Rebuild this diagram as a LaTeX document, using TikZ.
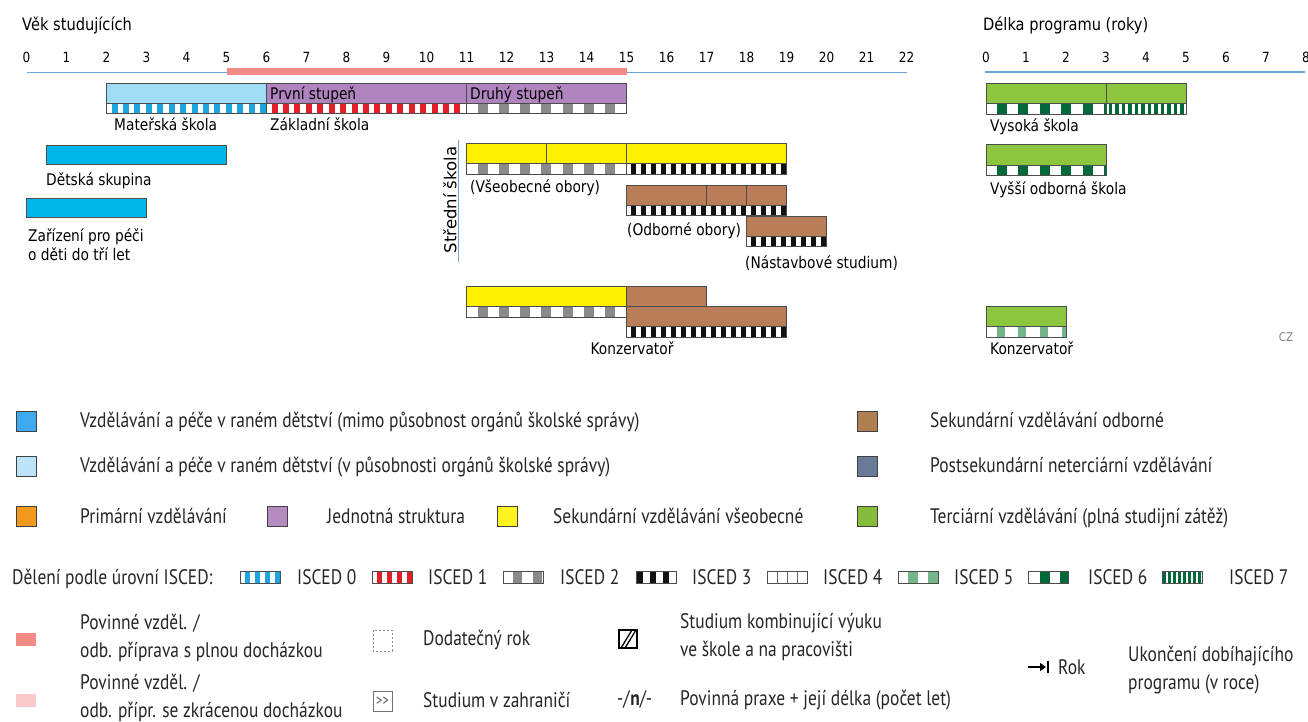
\documentclass[tikz,border=0pt]{standalone}
\usepackage{fontspec}
\newfontfamily\chartfont[FakeStretch=0.86]{DejaVu Sans}
\newfontfamily\chartwide{DejaVu Sans}
\newfontfamily\legfont[FakeStretch=0.83]{PT Sans}
\usetikzlibrary{arrows.meta}
\definecolor{axisblue}{HTML}{6FA3DC}
\definecolor{comppink}{HTML}{F28A85}
\definecolor{lightpink}{HTML}{F9C8CA}
\definecolor{msblue}{HTML}{A0DCF4}
\definecolor{purp}{HTML}{B084BE}
\definecolor{cyanb}{HTML}{00B5EA}
\definecolor{yel}{HTML}{FFF200}
\definecolor{brown}{HTML}{B97E57}
\definecolor{grn}{HTML}{8CC63F}
\definecolor{isA}{HTML}{1BA6E0}
\definecolor{isB}{HTML}{E41E26}
\definecolor{isC}{HTML}{8A8A8A}
\definecolor{isD}{HTML}{111111}
\definecolor{isF}{HTML}{74B58B}
\definecolor{isG}{HTML}{00693A}
\definecolor{lgblue}{HTML}{3FA9F0}
\definecolor{lglight}{HTML}{BDE3FA}
\definecolor{lgorange}{HTML}{F39A1E}
\definecolor{lgpurp}{HTML}{B58CC0}
\definecolor{lgyel}{HTML}{FFF21F}
\definecolor{lgbrown}{HTML}{B07F51}
\definecolor{lgslate}{HTML}{6A7B9A}
\definecolor{lggreen}{HTML}{86BC3C}
\tikzset{
  boxline/.style={draw=black!70, line width=0.8pt},
  lab/.style={font=\chartfont\fontsize{16}{19}\selectfont, anchor=mid west, inner sep=0pt, align=left, yshift=-3pt},
  lab2/.style={font=\chartfont\fontsize{16}{19}\selectfont, anchor=west, inner sep=0pt, align=left},
  num/.style={font=\chartfont\fontsize{14}{16}\selectfont, inner sep=0pt, yshift=-1pt},
  ttl/.style={font=\chartfont\fontsize{17}{20}\selectfont, anchor=mid west, inner sep=0pt, yshift=-3pt},
  leg/.style={font=\legfont\fontsize{21}{28}\selectfont, anchor=mid west, inner sep=0pt, align=left, text=black!85, yshift=-5.5pt},
  leg2/.style={font=\legfont\fontsize{21}{28}\selectfont, anchor=west, inner sep=0pt, align=left, text=black!85},
  sq/.style={draw=black!75, line width=1pt},
}
% strip: x1 x2 ytop h color period block offset
\newcommand\stripe[8]{%
  \begin{scope}
    \clip (#1,#3) rectangle (#2,#3+#4);
    \fill[white] (#1,#3) rectangle (#2,#3+#4);
    \pgfmathtruncatemacro\nblk{(#2-#1)/#6+1}
    \foreach \k in {0,...,\nblk}{
      \fill[#5] ({#1+#8+\k*#6},#3) rectangle ++(#7,#4);
    }
  \end{scope}
  \draw[boxline] (#1,#3) rectangle (#2,#3+#4);
}
% colored box: x1 x2 ytop ybot color
\newcommand\cbox[5]{%
  \fill[#5] (#1,#3) rectangle (#2,#4);
  \draw[boxline] (#1,#3) rectangle (#2,#4);
}
\begin{document}
\begin{tikzpicture}[x=1pt,y=-1pt]
\useasboundingbox (0,0) rectangle (1308,722);
\fill[white] (0,0) rectangle (1308,722);

% ---------- titles and axes
\node[ttl] (tAge) at (22,25) {Věk studujících};
\node[ttl] (tLen) at (983,25) {Délka programu (roky)};
\foreach \a in {0,...,22}{
  \node[num] (age\a) at ({26.5+40*\a},56) {\a};
}
\foreach \d in {0,...,8}{
  \node[num] (len\d) at ({986+40*\d},56) {\d};
}
\draw[axisblue, line width=1.4pt] (26.5,72.5) -- (906.5,72.5);
\fill[comppink] (226.5,68.5) rectangle (626.5,75);
\draw[axisblue, line width=1.4pt] (985,72) -- (1305,72);

% ---------- row 1: Mateřská, Základní
\cbox{106.5}{266.5}{83.5}{103.5}{msblue}
\stripe{106.5}{266.5}{103.5}{10}{isA}{11.43}{6}{5}
\cbox{266.5}{466.5}{83.5}{103.5}{purp}
\stripe{266.5}{466.5}{103.5}{10}{isB}{11.43}{6}{5}
\cbox{466.5}{626.5}{83.5}{103.5}{purp}
\stripe{466.5}{626.5}{103.5}{10}{isC}{21.33}{10}{11}
\node[lab] (prvni) at (270,94) {První stupeň};
\node[lab] (druhy) at (470,94) {Druhý stupeň};
\node[lab] (ms) at (114,125.5) {Mateřská škola};
\node[lab] (zs) at (270,125.5) {Základní škola};

% ---------- early childhood
\cbox{46.5}{226.5}{145}{164.5}{cyanb}
\node[lab] (ds) at (46,180) {Dětská skupina};
\cbox{26.5}{146.5}{198}{217.5}{cyanb}
\node[lab2] (zar) at (28,244.5) {Zařízení pro péči\\o děti do tří let};

% ---------- upper secondary
\node[font=\chartwide\fontsize{16.5}{18}\selectfont, rotate=90, inner sep=0pt] (ss) at (450,200) {Střední škola};
\coordinate (ssTop) at (458.5,140);
\coordinate (ssBot) at (458.5,262);
\draw[axisblue, line width=1.4pt] (ssTop) -- (ssBot);

\cbox{466.5}{546.5}{143.5}{163.5}{yel}
\cbox{546.5}{626.5}{143.5}{163.5}{yel}
\cbox{626.5}{786.5}{143.5}{163.5}{yel}
\stripe{466.5}{626.5}{163.5}{10.5}{isC}{21.33}{10}{11}
\stripe{626.5}{786.5}{163.5}{10.5}{isD}{10}{5}{4}
\node[lab] (vseob) at (470,187) {(Všeobecné obory)};

\cbox{626.5}{706.5}{185}{205}{brown}
\cbox{706.5}{746.5}{185}{205}{brown}
\cbox{746.5}{786.5}{185}{205}{brown}
\stripe{626.5}{786.5}{205}{10.5}{isD}{10}{5}{4}
\node[lab] (odb) at (627,230.5) {(Odborné obory)};

\cbox{746.5}{826.5}{216}{236}{brown}
\stripe{746.5}{826.5}{236}{10.5}{isD}{10}{5}{4}
\node[lab] (nast) at (745,263) {(Nástavbové studium)};

% ---------- Konzervatoř (age)
\cbox{466.5}{626.5}{286.5}{306.5}{yel}
\stripe{466.5}{626.5}{306.5}{10.5}{isC}{21.33}{10}{11}
\cbox{626.5}{706.5}{286.5}{306.5}{brown}
\cbox{626.5}{786.5}{306.5}{326.5}{brown}
\stripe{626.5}{786.5}{326.5}{10.5}{isD}{10}{5}{4}
\node[lab, anchor=mid] (konz) at (632,349) {Konzervatoř};

% ---------- tertiary (duration)
\cbox{986}{1106}{83.5}{103.5}{grn}
\cbox{1106}{1186}{83.5}{103.5}{grn}
\stripe{986}{1106}{103.5}{10.5}{isG}{21.5}{10}{10.7}
\stripe{1106}{1186}{103.5}{10.5}{isG}{6.5}{3.5}{2.5}
\node[lab] (vs) at (990,126.5) {Vysoká škola};

\cbox{986}{1106}{144.5}{165}{grn}
\stripe{986}{1106}{165}{10.5}{isG}{21.5}{10}{10.7}
\node[lab] (vos) at (990,189) {Vyšší odborná škola};

\cbox{986}{1066}{306.5}{326.5}{grn}
\stripe{986}{1066}{326.5}{10.5}{isF}{21.7}{8}{10.7}
\node[lab] (konz2) at (990,349) {Konzervatoř};

\node[font=\chartfont\fontsize{12}{13}\selectfont, text=black!50, inner sep=0pt] (cz) at (1286,337) {CZ};

% ---------- legend: colours
\filldraw[sq, fill=lgblue] (16,411) rectangle (36,431);
\node[leg] (l1) at (80,420) {Vzdělávání a péče v raném dětství (mimo působnost orgánů školské správy)};
\filldraw[sq, fill=lglight] (16,456) rectangle (36,476);
\node[leg] (l2) at (80,465) {Vzdělávání a péče v raném dětství (v působnosti orgánů školské správy)};
\filldraw[sq, fill=lgorange] (16,506) rectangle (36,526);
\node[leg] (l3) at (80,516) {Primární vzdělávání};
\filldraw[sq, fill=lgpurp] (267,506) rectangle (287,526);
\node[leg] (l4) at (327,516) {Jednotná struktura};
\filldraw[sq, fill=lgyel] (497,506) rectangle (517,526);
\node[leg] (l5) at (553,516) {Sekundární vzdělávání všeobecné};
\filldraw[sq, fill=lgbrown] (857,411) rectangle (877,431);
\node[leg] (l6) at (930,420) {Sekundární vzdělávání odborné};
\filldraw[sq, fill=lgslate] (857,456) rectangle (877,476);
\node[leg] (l7) at (930,465) {Postsekundární neterciární vzdělávání};
\filldraw[sq, fill=lggreen] (857,506) rectangle (877,526);
\node[leg] (l8) at (930,516) {Terciární vzdělávání (plná studijní zátěž)};

% ---------- legend: ISCED
\node[leg] (lis) at (12,577) {Dělení podle úrovní ISCED:};
\stripe{240}{280}{571}{12}{isA}{10}{5}{5}
\node[leg] (is0) at (297,577) {ISCED 0};
\stripe{372}{412}{571}{12}{isB}{10}{5}{5}
\node[leg] (is1) at (428,577) {ISCED 1};
\stripe{503}{543}{571}{12}{isC}{20}{9}{10}
\node[leg] (is2) at (560,577) {ISCED 2};
\stripe{636}{676}{571}{12}{isD}{13}{6}{1}
\node[leg] (is3) at (692,577) {ISCED 3};
\begin{scope}
  \fill[white] (767,571) rectangle (807,583);
  \foreach \q in {777,787,797}{ \draw[black!60, line width=0.8pt] (\q,571) -- (\q,583); }
  \draw[boxline] (767,571) rectangle (807,583);
\end{scope}
\node[leg] (is4) at (823,577) {ISCED 4};
\stripe{898}{938}{571}{12}{isF}{20}{10}{10}
\node[leg] (is5) at (954,577) {ISCED 5};
\stripe{1028}{1068}{571}{12}{isG}{20}{10}{12}
\node[leg] (is6) at (1088,577) {ISCED 6};
\stripe{1162}{1202}{571}{12}{isG}{5}{3}{1}
\node[leg] (is7) at (1229,577) {ISCED 7};

% ---------- legend: other symbols
\fill[comppink] (16,633) rectangle (36,646);
\node[leg2] (p1) at (80,638) {Povinné vzděl. /\\odb. příprava s plnou docházkou};
\fill[lightpink] (16,694) rectangle (36,707);
\node[leg2] (p2) at (80,698) {Povinné vzděl. /\\odb. přípr. se zkrácenou docházkou};

\draw[black!45, dash pattern=on 2pt off 2pt, line width=0.8pt] (373,630) rectangle (392,651);
\node[leg] (dod) at (423,638) {Dodatečný rok};
\draw[black!55, line width=0.8pt] (373,691) rectangle (392,711);
\node[font=\legfont\fontsize{15}{16}\selectfont, text=black!70, inner sep=0pt] (abr) at (382.5,701) {>>};
\node[leg] (zahr) at (423,700) {Studium v zahraničí};

\draw[black, line width=2pt] (619,630) rectangle (637,648);
\draw[black, line width=1.3pt] (621,648) -- (632,630);
\draw[black, line width=1.3pt] (625,648) -- (636,630);
\node[leg2] (komb) at (680,637.5) {Studium kombinující výuku\\ve škole a na pracovišti};
\node[leg] (praxs) at (617,698) {-/\textbf{n}/-};
\node[leg] (prax) at (680,698) {Povinná praxe + její délka (počet let)};

\coordinate (arrA) at (1028,667);
\coordinate (arrB) at (1046,667);
\draw[black, line width=2.2pt, -{Triangle[length=6pt,width=8pt]}] (arrA) -- (arrB);
\draw[black, line width=2.2pt] (1048,661) -- (1048,673);
\node[leg] (rok) at (1058,667) {Rok};
\node[leg2] (ukon) at (1128,670) {Ukončení dobíhajícího\\programu (v roce)};
\end{tikzpicture}
\end{document}
